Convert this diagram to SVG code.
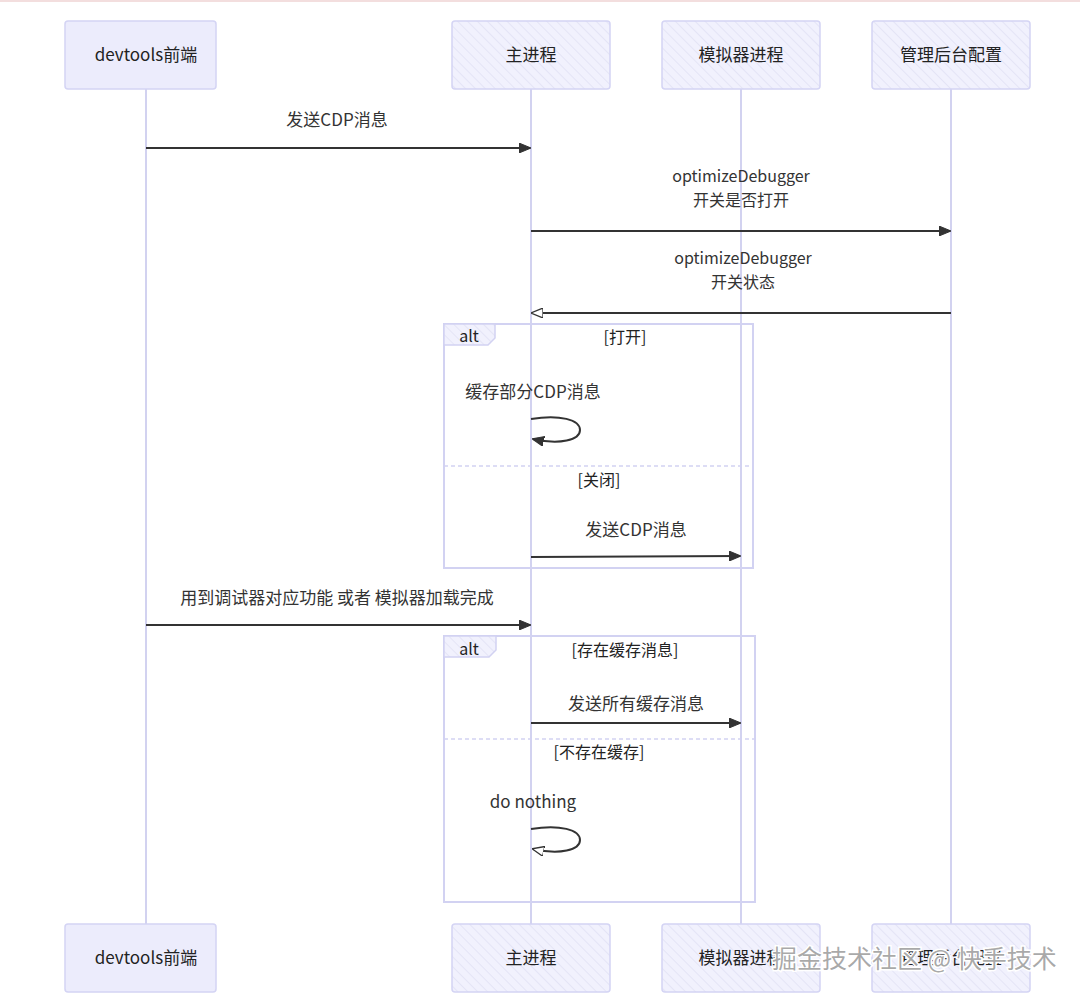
<svg xmlns="http://www.w3.org/2000/svg" width="1080" height="999" viewBox="0 0 1080 999">
<defs>
<pattern id="hatch" patternUnits="userSpaceOnUse" width="7" height="7" patternTransform="rotate(-45)">
<rect width="7" height="7" fill="#f1f1fd"/>
<line x1="0" y1="0" x2="0" y2="7" stroke="#dcdcf2" stroke-width="1.2"/>
</pattern>
<marker id="arrF" viewBox="0 0 12 10" refX="11" refY="5" markerWidth="12" markerHeight="10" markerUnits="userSpaceOnUse" orient="auto">
<path d="M0,0 L12,5 L0,10 Z" fill="#333" stroke="#333" stroke-width="1"/>
</marker>
<marker id="arrO" viewBox="0 0 12 10" refX="11" refY="5" markerWidth="12" markerHeight="10" markerUnits="userSpaceOnUse" orient="auto">
<path d="M0,0 L12,5 L0,10 Z" fill="#fff" stroke="#333" stroke-width="1.3"/>
</marker>
</defs>
<style>
.actor{fill:url(#hatch);stroke:#d4d4f4;stroke-width:1.5}
.actor0{fill:#ececfc;stroke:#d4d4f4;stroke-width:1.5}
.atext{font-family:"Noto Sans CJK SC","Noto Sans",sans-serif;font-size:17px;fill:#222;text-anchor:middle}
.life{stroke:#d2d2f0;stroke-width:2}
.msg{stroke:#333;stroke-width:2;fill:none}
.mtext{font-family:"Noto Sans CJK SC","Noto Sans",sans-serif;font-size:17px;fill:#333;text-anchor:middle}
.m2{font-size:16px}
.frame{fill:none;stroke:#d2d2f2;stroke-width:2}
.sep{stroke:#d2d2f2;stroke-width:1.5;stroke-dasharray:4 3}
.tab{fill:url(#hatch);stroke:#d2d2f2;stroke-width:1.5}
.ltext{font-family:"Noto Sans CJK SC","Noto Sans",sans-serif;font-size:16px;fill:#222;text-anchor:middle}
.wm{font-family:"Noto Sans CJK SC",sans-serif;font-size:25px;fill:#9a9a9a;stroke:#fff;stroke-width:3;paint-order:stroke;fill-opacity:0.85}
</style>
<rect width="1080" height="999" fill="#ffffff"/>
<rect x="0" y="0" width="1080" height="2" fill="#f3dede"/>

<g id="lifelines">
<line class="life" x1="146" y1="89" x2="146" y2="924"/>
<line class="life" x1="531" y1="89" x2="531" y2="924"/>
<line class="life" x1="741" y1="89" x2="741" y2="924"/>
<line class="life" x1="951" y1="89" x2="951" y2="924"/>
</g>

<g id="alt1">
<rect class="frame" x="444" y="324" width="309" height="244"/>
<path class="tab" d="M444,324 H495 V338 L488,345 H444 Z"/>
<text class="ltext" x="469" y="342">alt</text>
<text class="ltext" x="625" y="343">[打开]</text>
<line class="sep" x1="444" y1="466" x2="753" y2="466"/>
<text class="ltext" x="599" y="486">[关闭]</text>
</g>

<g id="alt2">
<rect class="frame" x="444" y="636" width="311" height="266"/>
<path class="tab" d="M444,636 H496 V650 L489,657 H444 Z"/>
<text class="ltext" x="469" y="655">alt</text>
<text class="ltext" x="625" y="656">[存在缓存消息]</text>
<line class="sep" x1="444" y1="739" x2="755" y2="739"/>
<text class="ltext" x="599" y="758">[不存在缓存]</text>
</g>

<g id="actor-devtools-top">
<rect class="actor0" x="65" y="21" width="151" height="68" rx="3"/>
<text class="atext" x="146" y="61">devtools前端</text>
</g>
<g id="actor-main-top">
<rect class="actor" x="452" y="21" width="158" height="68" rx="3"/>
<text class="atext" x="531" y="61">主进程</text>
</g>
<g id="actor-sim-top">
<rect class="actor" x="662" y="21" width="158" height="68" rx="3"/>
<text class="atext" x="741" y="61">模拟器进程</text>
</g>
<g id="actor-admin-top">
<rect class="actor" x="872" y="21" width="158" height="68" rx="3"/>
<text class="atext" x="951" y="61">管理后台配置</text>
</g>

<g id="actor-devtools-bottom">
<rect class="actor0" x="65" y="924" width="151" height="68" rx="3"/>
<text class="atext" x="146" y="964">devtools前端</text>
</g>
<g id="actor-main-bottom">
<rect class="actor" x="452" y="924" width="158" height="68" rx="3"/>
<text class="atext" x="531" y="964">主进程</text>
</g>
<g id="actor-sim-bottom">
<rect class="actor" x="662" y="924" width="158" height="68" rx="3"/>
<text class="atext" x="741" y="964">模拟器进程</text>
</g>
<g id="actor-admin-bottom">
<rect class="actor" x="872" y="924" width="158" height="68" rx="3"/>
<text class="atext" x="951" y="964">管理后台配置</text>
</g>

<g id="connectors">
<text class="mtext" x="337" y="126">发送CDP消息</text>
<line class="msg" x1="146" y1="148" x2="530" y2="148" marker-end="url(#arrF)"/>

<text class="mtext m2" x="741" y="182">optimizeDebugger</text>
<text class="mtext m2" x="741" y="206">开关是否打开</text>
<line class="msg" x1="531" y1="231" x2="950" y2="231" marker-end="url(#arrF)"/>

<text class="mtext m2" x="743" y="264">optimizeDebugger</text>
<text class="mtext m2" x="743" y="288">开关状态</text>
<line class="msg" x1="951" y1="313" x2="532" y2="313" stroke-width="1.5" marker-end="url(#arrO)"/>

<text class="mtext" x="533" y="398">缓存部分CDP消息</text>
<path class="msg" d="M531,419 C560,414 580,420 580,430 C580,440 560,445 533,439" stroke-width="1.5" marker-end="url(#arrF)"/>

<text class="mtext" x="636" y="536">发送CDP消息</text>
<line class="msg" x1="531" y1="557" x2="740" y2="556" marker-end="url(#arrF)"/>

<text class="mtext" x="337" y="604">用到调试器对应功能 或者 模拟器加载完成</text>
<line class="msg" x1="146" y1="625" x2="530" y2="625" marker-end="url(#arrF)"/>

<text class="mtext" x="636" y="710">发送所有缓存消息</text>
<line class="msg" x1="531" y1="723" x2="740" y2="723" marker-end="url(#arrF)"/>

<text class="mtext" x="533" y="808">do nothing</text>
<path class="msg" d="M531,829 C560,824 580,830 580,840 C580,850 560,855 533,849" stroke-width="1.5" marker-end="url(#arrO)"/>
</g>

<text class="wm" x="772" y="968">掘金技术社区 @ 快手技术</text>
</svg>
